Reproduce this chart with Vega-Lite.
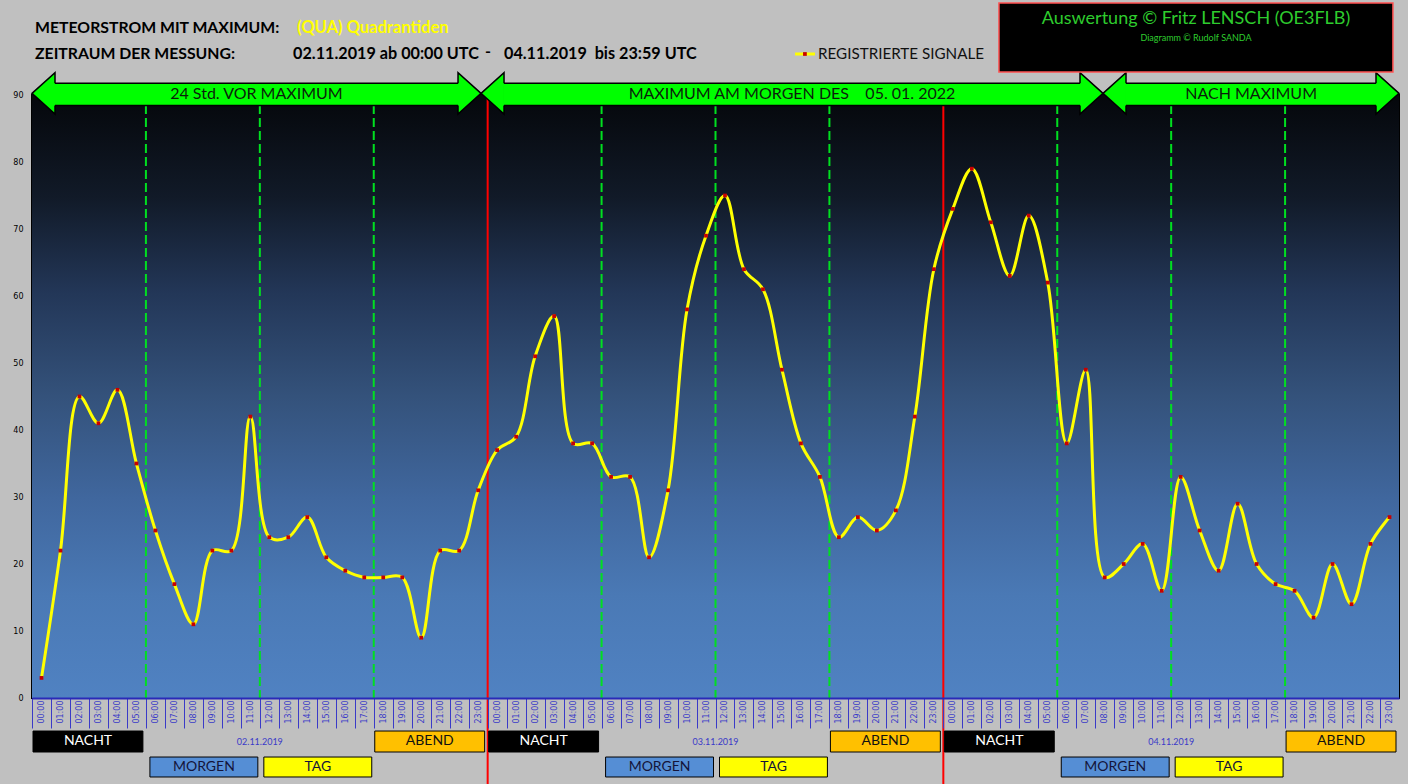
{
  "$schema": "https://vega.github.io/schema/vega-lite/v6.json",
  "width": 1367,
  "height": 603,
  "autosize": {"type": "none"},
  "padding": {"left": 32, "top": 95, "right": 9, "bottom": 86},
  "background": "#c0c0c0",
  "view": {"stroke": "#000000", "strokeWidth": 2},
  "config": {"text": {"font": "Lato"}},
  "layer": [
    {
      "data": {"values": [{}]},
      "mark": {"type": "rect", "fill": {"gradient": "linear", "x1": 0, "y1": 0, "x2": 0, "y2": 1,
        "stops": [
          {"offset": 0, "color": "#05070b"},
          {"offset": 0.17, "color": "#111a28"},
          {"offset": 0.33, "color": "#233758"},
          {"offset": 0.5, "color": "#34527b"},
          {"offset": 0.67, "color": "#40679e"},
          {"offset": 0.83, "color": "#4a79b5"},
          {"offset": 1, "color": "#5082c2"}
        ]}},
      "encoding": {
        "x": {"datum": -0.5, "type": "quantitative",
          "scale": {"domain": [-0.5, 71.5], "nice": false, "zero": false},
          "axis": {"title": null,
            "values": [0,1,2,3,4,5,6,7,8,9,10,11,12,13,14,15,16,17,18,19,20,21,22,23,24,25,26,27,28,29,30,31,32,33,34,35,36,37,38,39,40,41,42,43,44,45,46,47,48,49,50,51,52,53,54,55,56,57,58,59,60,61,62,63,64,65,66,67,68,69,70,71],
            "tickCount": 100,
            "labelExpr": "(datum.value % 24 < 10 ? '0' : '') + (datum.value % 24) + ':00'",
            "labelAngle": 270, "labelFontSize": 8, "labelFont": "DejaVu Sans", "labelColor": "#3a3ac8",
            "labelPadding": -28, "labelOverlap": false, "labelFlush": false, "labelBound": false,
            "tickSize": 30, "tickColor": "#3a3ac8", "tickWidth": 1, "tickOffset": -9.49, "labelOffset": 9.49,
            "domainColor": "#2a2ab8", "domainWidth": 2, "grid": false, "zindex": 1}},
        "x2": {"datum": 71.5},
        "y": {"datum": 90, "type": "quantitative",
          "scale": {"domain": [0, 90], "nice": false, "zero": false},
          "axis": {"title": null, "values": [0, 10, 20, 30, 40, 50, 60, 70, 80, 90], "ticks": false,
            "domain": false, "grid": false, "labelFontSize": 8, "labelFont": "DejaVu Sans",
            "labelColor": "#000000", "labelPadding": 9}},
        "y2": {"datum": 0}
      }
    },
    {
      "data": {"values": [{"i": 5.5}, {"i": 11.5}, {"i": 17.5}, {"i": 29.5}, {"i": 35.5}, {"i": 41.5}, {"i": 53.5}, {"i": 59.5}, {"i": 65.5}]},
      "mark": {"type": "rule", "color": "#00e020", "strokeWidth": 2, "strokeDash": [9, 4]},
      "encoding": {
        "x": {"field": "i", "type": "quantitative"},
        "y": {"datum": 88.5},
        "y2": {"datum": 0}
      }
    },
    {
      "data": {"values": [{"i": 23.5}, {"i": 47.5}]},
      "mark": {"type": "rule", "color": "#ff0000", "strokeWidth": 2},
      "encoding": {
        "x": {"field": "i", "type": "quantitative"},
        "y": {"datum": 90.2},
        "y2": {"datum": -13}
      }
    },
    {
      "data": {"values": [
        {"i": 0, "n": 3}, {"i": 1, "n": 22}, {"i": 2, "n": 45}, {"i": 3, "n": 41}, {"i": 4, "n": 46}, {"i": 5, "n": 35},
        {"i": 6, "n": 25}, {"i": 7, "n": 17}, {"i": 8, "n": 11}, {"i": 9, "n": 22}, {"i": 10, "n": 22}, {"i": 11, "n": 42},
        {"i": 12, "n": 24}, {"i": 13, "n": 24}, {"i": 14, "n": 27}, {"i": 15, "n": 21}, {"i": 16, "n": 19}, {"i": 17, "n": 18},
        {"i": 18, "n": 18}, {"i": 19, "n": 18}, {"i": 20, "n": 9}, {"i": 21, "n": 22}, {"i": 22, "n": 22}, {"i": 23, "n": 31},
        {"i": 24, "n": 37}, {"i": 25, "n": 39}, {"i": 26, "n": 51}, {"i": 27, "n": 57}, {"i": 28, "n": 38}, {"i": 29, "n": 38},
        {"i": 30, "n": 33}, {"i": 31, "n": 33}, {"i": 32, "n": 21}, {"i": 33, "n": 31}, {"i": 34, "n": 58}, {"i": 35, "n": 69},
        {"i": 36, "n": 75}, {"i": 37, "n": 64}, {"i": 38, "n": 61}, {"i": 39, "n": 49}, {"i": 40, "n": 38}, {"i": 41, "n": 33},
        {"i": 42, "n": 24}, {"i": 43, "n": 27}, {"i": 44, "n": 25}, {"i": 45, "n": 28}, {"i": 46, "n": 42}, {"i": 47, "n": 64},
        {"i": 48, "n": 73}, {"i": 49, "n": 79}, {"i": 50, "n": 71}, {"i": 51, "n": 63}, {"i": 52, "n": 72}, {"i": 53, "n": 62},
        {"i": 54, "n": 38}, {"i": 55, "n": 49}, {"i": 56, "n": 18}, {"i": 57, "n": 20}, {"i": 58, "n": 23}, {"i": 59, "n": 16},
        {"i": 60, "n": 33}, {"i": 61, "n": 25}, {"i": 62, "n": 19}, {"i": 63, "n": 29}, {"i": 64, "n": 20}, {"i": 65, "n": 17},
        {"i": 66, "n": 16}, {"i": 67, "n": 12}, {"i": 68, "n": 20}, {"i": 69, "n": 14}, {"i": 70, "n": 23}, {"i": 71, "n": 27}
      ]},
      "encoding": {
        "x": {"field": "i", "type": "quantitative"},
        "y": {"field": "n", "type": "quantitative"}
      },
      "layer": [
        {"mark": {"type": "line", "interpolate": "catmull-rom", "color": "#ffff00", "strokeWidth": 3}},
        {"mark": {"type": "point", "shape": "square", "filled": true, "size": 14, "color": "#c80000", "opacity": 1}}
      ]
    },
    {
      "data": {"values": [
        {"p": "NACHT", "a": -0.5, "b": 5.5}, {"p": "MORGEN", "a": 5.5, "b": 11.5}, {"p": "TAG", "a": 11.5, "b": 17.5}, {"p": "ABEND", "a": 17.5, "b": 23.5},
        {"p": "NACHT", "a": 23.5, "b": 29.5}, {"p": "MORGEN", "a": 29.5, "b": 35.5}, {"p": "TAG", "a": 35.5, "b": 41.5}, {"p": "ABEND", "a": 41.5, "b": 47.5},
        {"p": "NACHT", "a": 47.5, "b": 53.5}, {"p": "MORGEN", "a": 53.5, "b": 59.5}, {"p": "TAG", "a": 59.5, "b": 65.5}, {"p": "ABEND", "a": 65.5, "b": 71.5}
      ]},
      "layer": [
        {
          "transform": [{"filter": "datum.p === 'NACHT' || datum.p === 'ABEND'"}],
          "mark": {"type": "rect", "stroke": "#000000", "strokeWidth": 1, "xOffset": 1, "x2Offset": -3},
          "encoding": {
            "x": {"field": "a", "type": "quantitative"}, "x2": {"field": "b"},
            "y": {"datum": -4.93}, "y2": {"datum": -8.06},
            "fill": {"field": "p", "type": "nominal", "legend": null,
              "scale": {"domain": ["NACHT", "MORGEN", "TAG", "ABEND"], "range": ["#000000", "#558ed5", "#ffff00", "#ffc000"]}}
          }
        },
        {
          "transform": [{"filter": "datum.p === 'MORGEN' || datum.p === 'TAG'"}],
          "mark": {"type": "rect", "stroke": "#000000", "strokeWidth": 1, "xOffset": 4, "x2Offset": -2},
          "encoding": {
            "x": {"field": "a", "type": "quantitative"}, "x2": {"field": "b"},
            "y": {"datum": -8.81}, "y2": {"datum": -11.79},
            "fill": {"field": "p", "type": "nominal", "legend": null}
          }
        },
        {
          "transform": [{"filter": "datum.p === 'NACHT' || datum.p === 'ABEND'"}],
          "mark": {"type": "text", "fontSize": 14, "align": "center", "baseline": "middle", "dx": 56},
          "encoding": {
            "x": {"field": "a", "type": "quantitative"},
            "y": {"datum": -6.49},
            "text": {"field": "p"},
            "color": {"condition": {"test": "datum.p === 'NACHT'", "value": "#ffffff"}, "value": "#111111"}
          }
        },
        {
          "transform": [{"filter": "datum.p === 'MORGEN' || datum.p === 'TAG'"}],
          "mark": {"type": "text", "fontSize": 14, "align": "center", "baseline": "middle", "dx": 58, "color": "#14143a"},
          "encoding": {
            "x": {"field": "a", "type": "quantitative"},
            "y": {"datum": -10.3},
            "text": {"field": "p"}
          }
        }
      ]
    },
    {
      "data": {"values": [{"d": "02.11.2019", "i": 11.5}, {"d": "03.11.2019", "i": 35.5}, {"d": "04.11.2019", "i": 59.5}]},
      "mark": {"type": "text", "fontSize": 9, "color": "#3a3ac8", "align": "center", "baseline": "middle"},
      "encoding": {
        "x": {"field": "i", "type": "quantitative"},
        "y": {"datum": -6.57},
        "text": {"field": "d"}
      }
    },
    {
      "data": {"values": [
        {"l": "24 Std. VOR MAXIMUM", "a": -0.5, "b": 23.15, "m": 11.32},
        {"l": "MAXIMUM AM MORGEN DES\u00a0\u00a0\u00a0 05. 01. 2022", "a": 23.15, "b": 55.91, "m": 39.53},
        {"l": "NACH MAXIMUM", "a": 55.91, "b": 71.5, "m": 63.71}
      ]},
      "layer": [
        {
          "mark": {"type": "point", "shape": "M0,0L1,-0.9L1,0.9Z", "size": 2116, "filled": true, "fill": "#00ff00", "stroke": "#000000", "strokeWidth": 1.5, "opacity": 1},
          "encoding": {"x": {"field": "a", "type": "quantitative"}, "y": {"datum": 90.25}}
        },
        {
          "mark": {"type": "point", "shape": "M0,0L-1,-0.9L-1,0.9Z", "size": 2116, "filled": true, "fill": "#00ff00", "stroke": "#000000", "strokeWidth": 1.5, "opacity": 1},
          "encoding": {"x": {"field": "b", "type": "quantitative"}, "y": {"datum": 90.25}}
        },
        {
          "mark": {"type": "rect", "fill": "#00ff00", "strokeWidth": 0, "xOffset": 22, "x2Offset": -22},
          "encoding": {"x": {"field": "a", "type": "quantitative"}, "x2": {"field": "b"}, "y": {"datum": 91.75}, "y2": {"datum": 88.45}}
        },
        {
          "mark": {"type": "rule", "color": "#000000", "strokeWidth": 1.5, "xOffset": 23, "x2Offset": -23},
          "encoding": {"x": {"field": "a", "type": "quantitative"}, "x2": {"field": "b"}, "y": {"datum": 91.75}}
        },
        {
          "mark": {"type": "rule", "color": "#000000", "strokeWidth": 1.5, "xOffset": 23, "x2Offset": -23},
          "encoding": {"x": {"field": "a", "type": "quantitative"}, "x2": {"field": "b"}, "y": {"datum": 88.45}}
        },
        {
          "mark": {"type": "text", "fontSize": 16, "color": "#0b1f0b", "align": "center", "baseline": "middle"},
          "encoding": {"x": {"field": "m", "type": "quantitative"}, "y": {"datum": 90.1}, "text": {"field": "l"}}
        }
      ]
    },
    {
      "data": {"values": [{}]},
      "layer": [
        {
          "mark": {"type": "text", "text": "METEORSTROM MIT MAXIMUM:", "fontSize": 15.8, "fontWeight": "bold", "color": "#000000", "align": "left", "baseline": "middle"},
          "encoding": {"x": {"datum": -0.34}, "y": {"datum": 100.0}}
        },
        {
          "mark": {"type": "text", "text": "(QUA) Quadrantiden", "fontSize": 16.5, "fontWeight": "bold", "color": "#ffff00", "align": "left", "baseline": "middle"},
          "encoding": {"x": {"datum": 13.46}, "y": {"datum": 100.0}}
        },
        {
          "mark": {"type": "text", "text": "ZEITRAUM DER MESSUNG:", "fontSize": 15.8, "fontWeight": "bold", "color": "#000000", "align": "left", "baseline": "middle"},
          "encoding": {"x": {"datum": -0.34}, "y": {"datum": 96.12}}
        },
        {
          "mark": {"type": "text", "text": "02.11.2019 ab 00:00 UTC", "fontSize": 16.2, "fontWeight": "bold", "color": "#000000", "align": "left", "baseline": "middle"},
          "encoding": {"x": {"datum": 13.25}, "y": {"datum": 96.12}}
        },
        {
          "mark": {"type": "text", "text": "-", "fontSize": 16, "fontWeight": "bold", "color": "#000000", "align": "center", "baseline": "middle"},
          "encoding": {"x": {"datum": 23.52}, "y": {"datum": 96.4}}
        },
        {
          "mark": {"type": "text", "text": "04.11.2019\u00a0\u00a0bis 23:59 UTC", "fontSize": 16.2, "fontWeight": "bold", "color": "#000000", "align": "left", "baseline": "middle"},
          "encoding": {"x": {"datum": 24.36}, "y": {"datum": 96.12}}
        },
        {
          "mark": {"type": "rule", "color": "#ffff00", "strokeWidth": 3},
          "encoding": {"x": {"datum": 39.69}, "x2": {"datum": 40.74}, "y": {"datum": 96.12}}
        },
        {
          "mark": {"type": "point", "shape": "square", "filled": true, "size": 14, "color": "#c80000", "opacity": 1},
          "encoding": {"x": {"datum": 40.21}, "y": {"datum": 96.12}}
        },
        {
          "mark": {"type": "text", "text": "REGISTRIERTE SIGNALE", "fontSize": 15.2, "color": "#111111", "align": "left", "baseline": "middle"},
          "encoding": {"x": {"datum": 40.9}, "y": {"datum": 96.12}}
        },
        {
          "mark": {"type": "rect", "fill": "#000000", "stroke": "#ff5050", "strokeWidth": 1.5},
          "encoding": {"x": {"datum": 50.43}, "x2": {"datum": 71.18}, "y": {"datum": 103.73}, "y2": {"datum": 93.43}}
        },
        {
          "mark": {"type": "text", "text": "Auswertung © Fritz LENSCH (OE3FLB)", "fontSize": 18, "color": "#2ecc2e", "align": "center", "baseline": "middle"},
          "encoding": {"x": {"datum": 60.81}, "y": {"datum": 101.34}}
        },
        {
          "mark": {"type": "text", "text": "Diagramm © Rudolf SANDA", "fontSize": 9, "color": "#2ecc2e", "align": "center", "baseline": "middle"},
          "encoding": {"x": {"datum": 60.81}, "y": {"datum": 98.51}}
        }
      ]
    }
  ]
}
